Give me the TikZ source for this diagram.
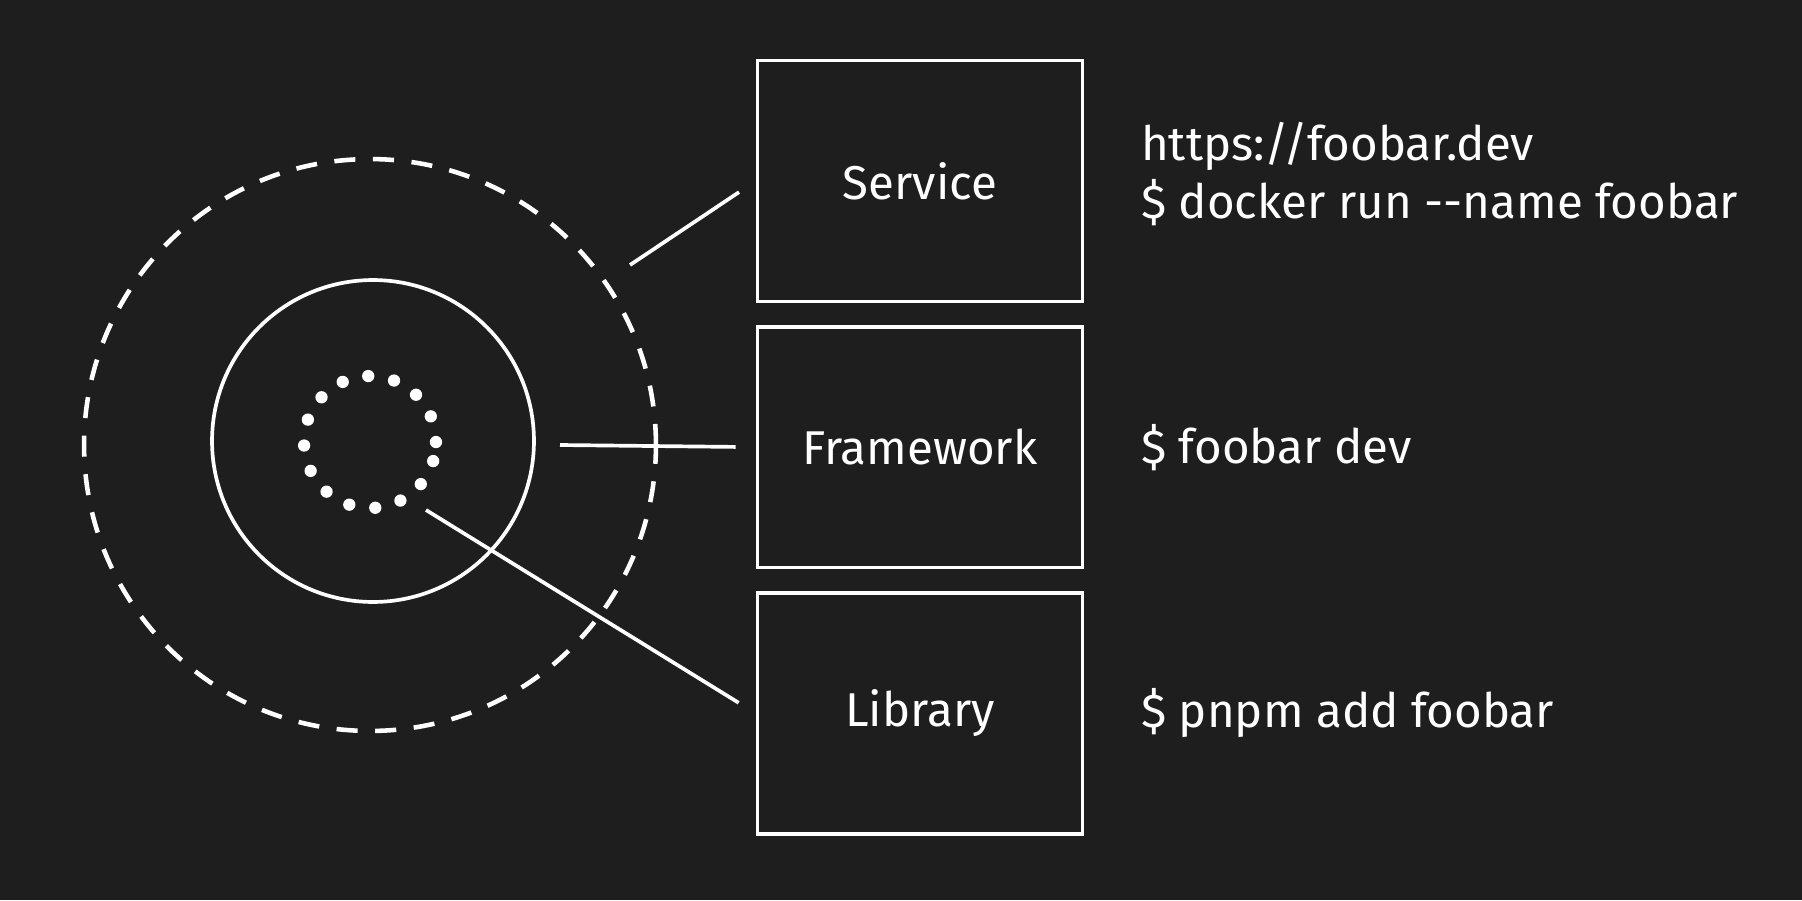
\documentclass[tikz,border=0pt]{standalone}
\usepackage{fontspec}
\setmainfont{Fira Sans}
\usetikzlibrary{positioning}
\definecolor{canvas}{HTML}{1E1E1E}

\begin{document}
\begin{tikzpicture}[x=0.02cm, y=-0.02cm, white, line width=2.1pt,
    font=\fontsize{27}{33}\selectfont, node distance=4.3mm,
    layerbox/.style={draw, minimum width=6.5cm, minimum height=4.82cm, inner sep=0pt},
    ring/.style={draw, circle, inner sep=0pt},
    cmd/.style={align=left, inner sep=0pt},
    link/.style={shorten >=0.4cm}]
  \fill[canvas] (0,0) rectangle (1802,900);
  \useasboundingbox (0,0) rectangle (1802,900);
  % rings
  \node[ring, line width=2.6pt, dash pattern=on 12pt off 10pt, minimum size=11.44cm] (outer) at (370,445) {};
  \node[ring, minimum size=6.44cm] (mid) at (373,441) {};
  \node[ring, line width=7pt, line cap=round, dash pattern=on 0pt off 15pt, minimum size=2.64cm] (core) at (370,442) {};
  % layers
  \node[layerbox] (svc) at (920,181) {Service};
  \node[layerbox, below=of svc] (fw) {Framework};
  \node[layerbox, below=of fw] (lib) {Library};
  % commands
  \node[cmd, right=11mm of svc, yshift=1.4mm] (svccmd) {https://foobar.dev\\\$ docker run -{}-name foobar};
  \node[cmd, right=11mm of fw] (fwcmd) {\$ foobar dev};
  \node[cmd, right=11mm of lib] (libcmd) {\$ pnpm add foobar};
  % connectors
  \coordinate (svcfoot) at (630,265);
  \coordinate (fwfoot) at (560,445);
  \coordinate (libfoot) at (426,510);
  \draw[link] (svcfoot) -- (svc.west);
  \draw[link] (fwfoot) -- (fw.west);
  \draw[link] (libfoot) -- (lib.west);
\end{tikzpicture}
\end{document}
